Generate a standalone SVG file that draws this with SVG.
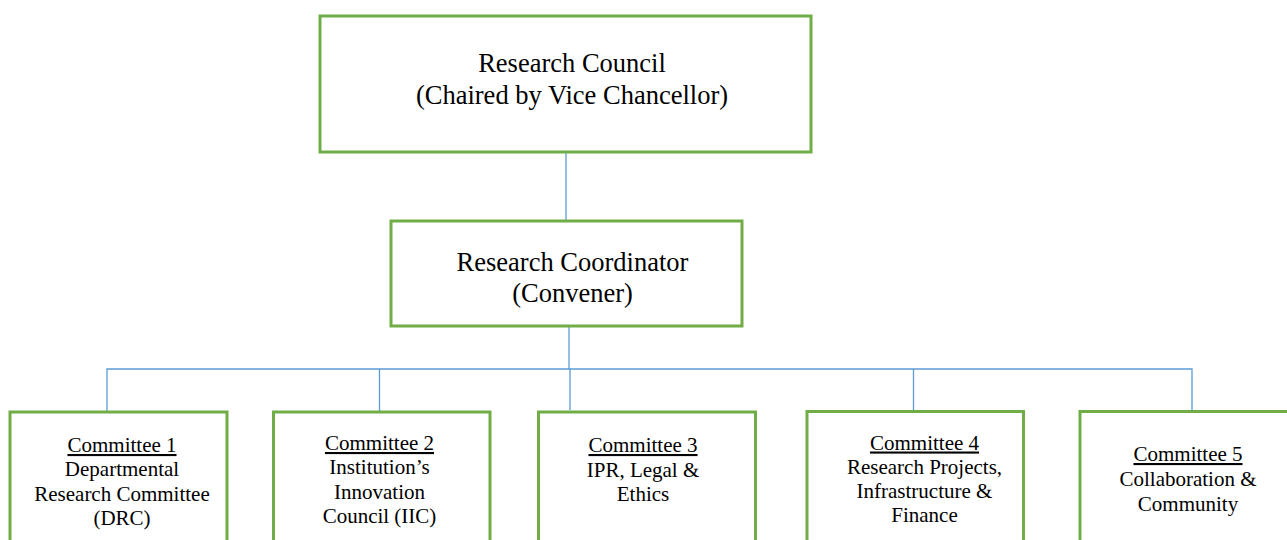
<svg xmlns="http://www.w3.org/2000/svg" width="1287" height="540" viewBox="0 0 1287 540">
<style>
.box{fill:#fff;stroke:#70AD47;stroke-width:3}
.conn{fill:none;stroke:#5B9BD5;stroke-width:1.3}
.big{font-family:"Liberation Serif","Times New Roman",serif;font-size:26.5px;fill:#000;text-anchor:middle}
.sm{font-family:"Liberation Serif","Times New Roman",serif;font-size:21px;fill:#000;text-anchor:middle}
.u{text-decoration:underline}
</style>
<rect width="1287" height="540" fill="#fff"/>
<g id="connectors">
<line class="conn" x1="566" y1="152" x2="566" y2="221"/>
<line class="conn" x1="569" y1="326" x2="569" y2="369"/>
<polyline class="conn" points="107,411 107,369 1192,369 1192,411"/>
<line class="conn" x1="379.5" y1="369" x2="379.5" y2="412"/>
<line class="conn" x1="570" y1="369" x2="570" y2="410"/>
<line class="conn" x1="913.5" y1="369" x2="913.5" y2="412"/>
</g>
<g id="research-council">
<rect class="box" x="320" y="16" width="491" height="136"/>
<text class="big" x="572" y="72">Research Council</text>
<text class="big" x="572" y="104">(Chaired by Vice Chancellor)</text>
</g>
<g id="research-coordinator">
<rect class="box" x="391" y="221" width="351" height="105"/>
<text class="big" x="572.5" y="271">Research Coordinator</text>
<text class="big" x="572.5" y="302">(Convener)</text>
</g>
<g id="committee-1">
<rect class="box" x="10" y="412" width="217" height="140"/>
<text class="sm" x="122" y="452"><tspan class="u">Committee 1</tspan></text>
<text class="sm" x="122" y="476">Departmental</text>
<text class="sm" x="122" y="500.5">Research Committee</text>
<text class="sm" x="122" y="524.5">(DRC)</text>
</g>
<g id="committee-2">
<rect class="box" x="273.5" y="412" width="216.5" height="140"/>
<text class="sm" x="379.5" y="450"><tspan class="u">Committee 2</tspan></text>
<text class="sm" x="379.5" y="474">Institution’s</text>
<text class="sm" x="379.5" y="498.5">Innovation</text>
<text class="sm" x="379.5" y="523">Council (IIC)</text>
</g>
<g id="committee-3">
<rect class="box" x="538.5" y="412" width="217" height="140"/>
<text class="sm" x="643" y="452"><tspan class="u">Committee 3</tspan></text>
<text class="sm" x="643" y="476.5">IPR, Legal &amp;</text>
<text class="sm" x="643" y="500.5">Ethics</text>
</g>
<g id="committee-4">
<rect class="box" x="807" y="411.5" width="216.5" height="140"/>
<text class="sm" x="924.5" y="449.5"><tspan class="u">Committee 4</tspan></text>
<text class="sm" x="924.5" y="474">Research Projects,</text>
<text class="sm" x="924.5" y="498">Infrastructure &amp;</text>
<text class="sm" x="924.5" y="522">Finance</text>
</g>
<g id="committee-5">
<rect class="box" x="1080" y="411.5" width="217" height="140"/>
<text class="sm" x="1188" y="461"><tspan class="u">Committee 5</tspan></text>
<text class="sm" x="1188" y="485.5">Collaboration &amp;</text>
<text class="sm" x="1188" y="511">Community</text>
</g>
</svg>
